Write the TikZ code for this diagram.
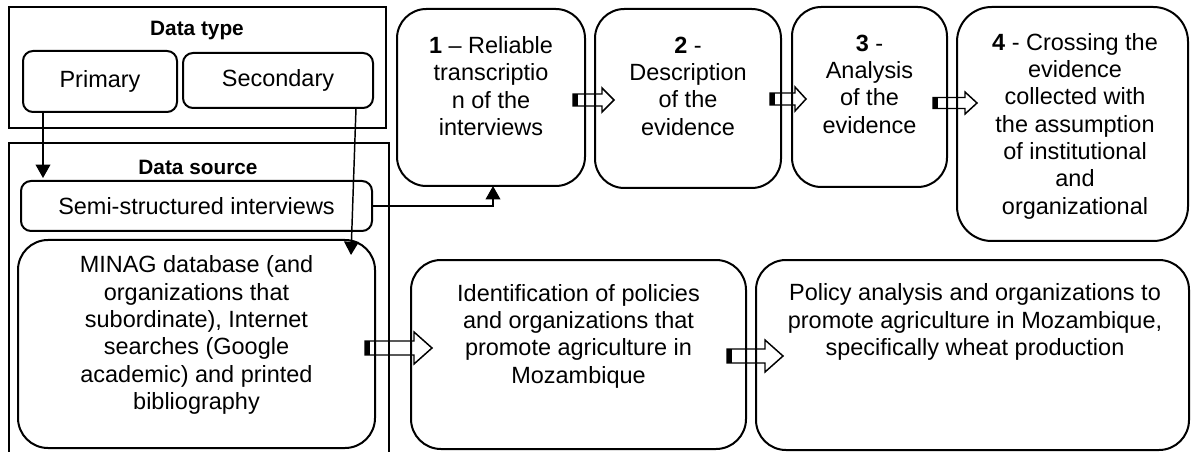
\documentclass[tikz,border=0pt]{standalone}
\usepackage{fontspec}
\setmainfont{Liberation Sans}
\usetikzlibrary{arrows.meta,calc,fit}
\tikzset{
  pics/barrow/.style n args={4}{code={
    \draw[line width=1.1pt, fill=white, line join=miter]
      (0,-#3) -- ({#1-#2},-#3) -- ({#1-#2},-#4) -- (#1,0) -- ({#1-#2},#4) -- ({#1-#2},#3) -- (0,#3) -- cycle;
    \fill (0,-#3) rectangle (5,#3);
  }}
}
\begin{document}
\begin{tikzpicture}[x=0.75pt,y=-0.75pt,
  every node/.style={inner sep=0pt, outer sep=0pt},
  frame/.style={draw, line width=1.5pt},
  rbox/.style={draw, line width=1.5pt, rounded corners=#1},
  rbox/.default=7.5pt,
  txt/.style={align=center, font=\fontsize{17.6pt}{20.5pt}\selectfont},
  head/.style={font=\bfseries\fontsize{15.6pt}{18pt}\selectfont},
  conn/.style={line width=1.1pt, -{Triangle[length=10pt,width=11pt]}}
]
\useasboundingbox (0,0) rectangle (1191,452);

% block arrows (drawn first, box borders pass over them)
\pic at (573,100) {barrow={41}{12}{6}{12}};
\pic at (770,99) {barrow={36}{11}{6}{12}};
\pic at (933,103) {barrow={44}{12}{5.5}{11}};
\pic at (365,348) {barrow={67}{18}{7}{16}};
\pic at (727,356) {barrow={56}{18}{7}{16}};

% Data type group
\node[fit={(9,7)(386,128)}, frame] (dtype) {};
\node[head] (dtypeh) at (197,31) {Data type};
\node[rbox, txt, minimum width=115.5pt, minimum height=45.75pt] (prim) at (100,81.5) {Primary};
\node[rbox, txt, minimum width=142.5pt, minimum height=41.25pt] (sec) at (278,80.5) {Secondary};

% Data source group (open at the bottom)
\draw[frame] (9,452) -- (9,143) -- (389,143) -- (389,452);
\node[head] (dsrch) at (198,167) {Data source};
\node[rbox, txt, minimum width=263.25pt, minimum height=37.5pt] (semi) at (196.5,206) {Semi-structured interviews};
\node[fit={(18,240)(375,448)}, rbox=22.5pt] (minag) {};
\node[txt] (minagt) at (196.5,335) {MINAG database (and\\organizations that\\subordinate), Internet\\searches (Google\\academic) and printed\\bibliography};

% top row
\node[fit={(397,9)(585,186)}, rbox=22pt] (b1) {};
\node[txt] (b1t) at (491,86) {\textbf{1} – Reliable\\transcriptio\\n of the\\interviews};
\node[fit={(595,9)(781,188)}, rbox=22pt] (b2) {};
\node[txt] (b2t) at (688,86) {\textbf{2} -\\Description\\of the\\evidence};
\node[fit={(792,7)(947,187)}, rbox=22pt] (b3) {};
\node[txt] (b3t) at (869.5,84) {\textbf{3} -\\Analysis\\of the\\evidence};
\node[fit={(957,7)(1188,241)}, rbox=26pt] (b4) {};
\node[txt] (b4t) at (1075,126) {\textbf{4} - Crossing the\\evidence\\collected with\\the assumption\\of institutional\\and\\organizational};

% bottom row
\node[fit={(411,260)(746,449)}, rbox=22.5pt] (ident) {};
\node[txt] (identt) at (578.5,336) {Identification of policies\\and organizations that\\promote agriculture in\\Mozambique};
\node[fit={(756,260)(1189,450)}, rbox=22.5pt] (pol) {};
\node[txt] (polt) at (975,322) {Policy analysis and organizations to\\promote agriculture in Mozambique,\\specifically wheat production};

% connectors
\coordinate (pA) at (43,0);
\draw[conn] (prim.south -| pA) -- ($(semi.north -| pA)+(0,-3)$);
\coordinate (sA) at (356,0);
\coordinate (secEnd) at (351,255);
\draw[conn] (sec.south -| sA) -- (secEnd);
\coordinate (tA) at (493,0);
\draw[conn] (semi.east) -- (semi.east -| tA) -- (b1.south -| tA);
\end{tikzpicture}
\end{document}
